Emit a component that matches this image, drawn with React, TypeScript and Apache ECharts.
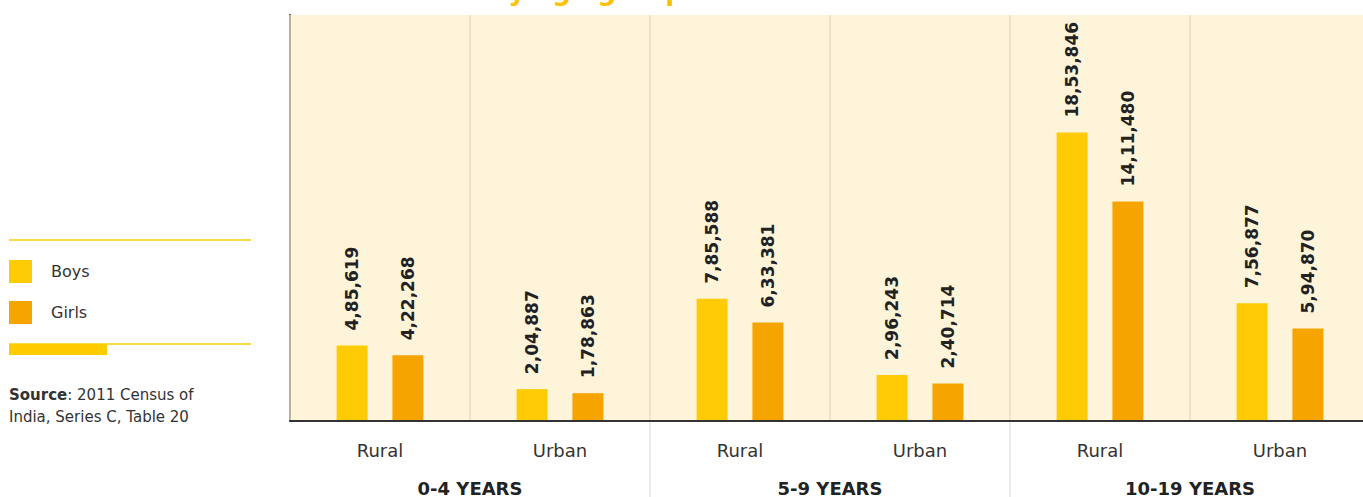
import React, { useEffect, useRef } from "react";
import * as echarts from "echarts";

const categories = ["Rural", "Urban", "Rural", "Urban", "Rural", "Urban"];
const groups = ["0-4 YEARS", "5-9 YEARS", "10-19 YEARS"];
const boys = [485619, 204887, 785588, 296243, 1853846, 756877];
const girls = [422268, 178863, 633381, 240714, 1411480, 594870];
const seriesNames = ["Boys", "Girls"];
const titleFragment = "by age group";
const sourceLines = ["{b|Source}: 2011 Census of", "India, Series C, Table 20"];

const BOYS_COLOR = "#FFCB05";
const GIRLS_COLOR = "#F6A500";
const FONT = "'DejaVu Sans', sans-serif";

function formatIndian(n: number): string {
  const s = String(Math.round(n));
  if (s.length <= 3) return s;
  const last3 = s.slice(-3);
  let rest = s.slice(0, -3);
  const parts: string[] = [];
  while (rest.length > 2) {
    parts.unshift(rest.slice(-2));
    rest = rest.slice(0, -2);
  }
  if (rest.length) parts.unshift(rest);
  return parts.join(",") + "," + last3;
}

export default function App() {
  const ref = useRef<HTMLDivElement>(null);
  useEffect(() => {
    if (!ref.current) return;
    const chart = echarts.init(ref.current, undefined, { renderer: "svg" });
    const labelCfg = {
      show: true,
      position: "top",
      rotate: 90,
      align: "left",
      verticalAlign: "middle",
      distance: 15,
      fontSize: 17,
      fontWeight: "bold",
      color: "#222",
      fontFamily: FONT,
      formatter: (p: any) => formatIndian(p.value),
    };
    chart.setOption({
      animation: false,
      textStyle: { fontFamily: FONT },
      grid: {
        left: 290,
        top: 15,
        right: 0,
        bottom: 75,
        show: true,
        backgroundColor: "#FEF4DA",
        borderWidth: 0,
      },
      legend: {
        orient: "vertical",
        left: 9,
        top: 260,
        padding: 0,
        itemWidth: 23,
        itemHeight: 23,
        itemGap: 18,
        icon: "rect",
        data: seriesNames,
        textStyle: { fontSize: 16, color: "#333", padding: [0, 0, 0, 14], fontFamily: FONT },
      },
      xAxis: [
        {
          type: "category",
          data: categories,
          axisLine: { show: true, lineStyle: { color: "#333", width: 2 } },
          axisTick: { show: false },
          axisLabel: { margin: 20, fontSize: 18, color: "#333", interval: 0, fontFamily: FONT },
          splitLine: { show: true, interval: 0, lineStyle: { color: "#E8DDC2", width: 1.5 } },
          z: 3,
        },
        {
          type: "category",
          data: groups,
          position: "bottom",
          axisLine: { show: false },
          axisTick: {
            show: true,
            length: 80,
            interval: (index: number) => index !== 0,
            lineStyle: { color: "#E6E6E6", width: 1.5 },
          },
          axisLabel: {
            margin: 58,
            fontSize: 18,
            fontWeight: "bold",
            color: "#222",
            interval: 0,
            fontFamily: FONT,
          },
          splitLine: { show: false },
        },
      ],
      yAxis: {
        type: "value",
        min: 0,
        max: 2610000,
        axisLine: { show: true, lineStyle: { color: "#333", width: 2 } },
        axisTick: { show: false },
        axisLabel: { show: false },
        splitLine: { show: false },
      },
      series: [
        {
          name: seriesNames[0],
          type: "bar",
          data: boys,
          barWidth: 31,
          barGap: "80%",
          itemStyle: { color: BOYS_COLOR },
          label: labelCfg,
        },
        {
          name: seriesNames[1],
          type: "bar",
          data: girls,
          barWidth: 31,
          barGap: "80%",
          itemStyle: { color: GIRLS_COLOR },
          label: labelCfg,
        },
      ],
      graphic: [
        {
          type: "text",
          left: 490,
          top: -22,
          style: {
            text: titleFragment,
            fill: "#FFC000",
            font: "bold 26px 'DejaVu Sans', sans-serif",
          },
        },
        {
          type: "line",
          shape: { x1: 9, y1: 240, x2: 251, y2: 240 },
          style: { stroke: "#FFCC00", lineWidth: 1.5 },
        },
        {
          type: "line",
          shape: { x1: 9, y1: 344, x2: 251, y2: 344 },
          style: { stroke: "#FFCC00", lineWidth: 1.5 },
        },
        {
          type: "rect",
          shape: { x: 9, y: 344, width: 98, height: 11 },
          style: { fill: "#FFCC00" },
        },
        {
          type: "text",
          left: 9,
          top: 384,
          style: {
            text: sourceLines.join("\n"),
            fill: "#333",
            fontSize: 15,
            lineHeight: 22,
            fontFamily: FONT,
            rich: {
              b: { fontWeight: "bold", fontSize: 15, fill: "#333", fontFamily: FONT },
            },
          },
        },
      ],
    });
    return () => chart.dispose();
  }, []);
  return (
    <div
      style={{
        position: "absolute",
        left: 0,
        top: 0,
        width: 1363,
        height: 497,
        overflow: "hidden",
      }}
    >
      <div ref={ref} style={{ width: 1370, height: 497 }} />
    </div>
  );
}
